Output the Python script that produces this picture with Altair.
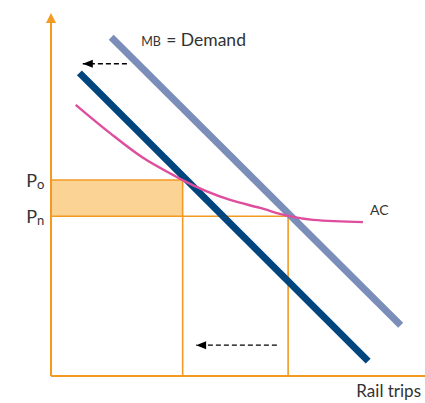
import altair as alt
import pandas as pd

# Diagram units: quantity and price both run 0-100 along the axes
Q_MAX, P_MAX = 100, 100

# Equilibria before and after the demand shift
q_old, q_new = 35.2, 63.4
p_old, p_new = 54.0, 44.0

# Original demand (MB = Demand) and the shifted demand curve
mb_q = [16.1, 93.5]
mb_p = [93.3, 14.0]
shift_q = [7.6, 84.8]
shift_p = [83.5, 4.1]

# Average cost curve
ac_q = [6.6, 15.8, 24.6, 32.6, 35.3, 47.9, 55.9, 63.4, 70.1, 83.4]
ac_p = [74.7, 66.9, 60.1, 55.4, 53.9, 48.5, 46.3, 44.1, 43.0, 42.4]

# Leftward shift arrows: tail quantity, tip quantity, price level
arrow_tail_q = [20.3, 60.4]
arrow_tip_q = [8.5, 38.8]
arrow_p = [86.0, 8.5]

ORANGE = "#F29A22"
FILL = "#FBD395"
LIGHT = "#7B8DB9"
DARK = "#00457E"
PINK = "#DE4E9C"
TEXT = "#333333"
FONT = "Lato"

W, H = 425, 403
left_px, bottom_px = 51, 27
xs = alt.Scale(domain=[-left_px * Q_MAX / (W - left_px), Q_MAX], nice=False, zero=False)
ys_span = 363
ys = alt.Scale(domain=[-bottom_px * P_MAX / ys_span, (H - bottom_px) * P_MAX / ys_span], nice=False, zero=False)


def X(f="q"):
    return alt.X(f"{f}:Q", scale=xs, axis=None)


def Y(f="p"):
    return alt.Y(f"{f}:Q", scale=ys, axis=None)


# Shaded price band between the old and new price
band = alt.Chart(pd.DataFrame({"q": [0], "q2": [q_old], "p": [p_new], "p2": [p_old]})).mark_rect(
    color=FILL
).encode(x=X(), x2="q2:Q", y=Y(), y2="p2:Q")

guides = alt.Chart(pd.DataFrame({
    "q": [0, 0, q_old, q_new],
    "q2": [q_old, q_new, q_old, q_new],
    "p": [p_old, p_new, 0, 0],
    "p2": [p_old, p_new, p_old, p_new],
})).mark_rule(color=ORANGE, strokeWidth=1.6).encode(x=X(), x2="q2:Q", y=Y(), y2="p2:Q")

axes = alt.Chart(pd.DataFrame({
    "q": [0, 0], "q2": [0, Q_MAX], "p": [0, 0], "p2": [P_MAX - 2, 0],
})).mark_rule(color=ORANGE, strokeWidth=2).encode(x=X(), x2="q2:Q", y=Y(), y2="p2:Q")

y_head = alt.Chart(pd.DataFrame({"q": [0], "p": [P_MAX]})).mark_point(
    shape="M 0 0 L -1 2 L 1 2 Z", size=100, filled=True, color=ORANGE, opacity=1, strokeWidth=0
).encode(x=X(), y=Y())

mb_line = alt.Chart(pd.DataFrame({"q": mb_q, "p": mb_p})).mark_line(
    color=LIGHT, strokeWidth=7, strokeCap="butt"
).encode(x=X(), y=Y())

shift_line = alt.Chart(pd.DataFrame({"q": shift_q, "p": shift_p})).mark_line(
    color=DARK, strokeWidth=7, strokeCap="butt"
).encode(x=X(), y=Y())

ac_line = alt.Chart(pd.DataFrame({"q": ac_q, "p": ac_p})).mark_line(
    color=PINK, strokeWidth=2.4, interpolate="monotone"
).encode(x=X(), y=Y())

arrows = pd.DataFrame({"q": arrow_tail_q, "q2": arrow_tip_q, "p": arrow_p})
arrow_shafts = alt.Chart(arrows).mark_rule(
    color="black", strokeWidth=1.4, strokeDash=[5, 3]
).encode(x=X(), x2="q2:Q", y=Y())
arrow_heads = alt.Chart(arrows).mark_point(
    shape="M 0 0 L 2 -0.8 L 2 0.8 Z", size=100, filled=True, color="black", opacity=1, strokeWidth=0
).encode(x=X("q2"), y=Y())

# Price labels P_o and P_n on the vertical axis
prices = pd.DataFrame({"q": [0, 0], "p": [p_old, p_new], "main": ["P", "P"], "sub": ["o", "n"]})
p_main = alt.Chart(prices).mark_text(
    align="right", baseline="alphabetic", dx=-14, dy=7, font=FONT, fontSize=18, color=TEXT
).encode(x=X(), y=Y(), text="main:N")
p_sub = alt.Chart(prices).mark_text(
    align="left", baseline="alphabetic", dx=-14, dy=9, font=FONT, fontSize=13, color=TEXT
).encode(x=X(), y=Y(), text="sub:N")

mb_anchor = pd.DataFrame({"q": [mb_q[0]], "p": [mb_p[0]]})
mb_small = alt.Chart(mb_anchor.assign(t=["MB"])).mark_text(
    align="left", baseline="alphabetic", dx=30, dy=9, font=FONT, fontSize=12.5, color=TEXT
).encode(x=X(), y=Y(), text="t:N")
mb_rest = alt.Chart(mb_anchor.assign(t=["= Demand"])).mark_text(
    align="left", baseline="alphabetic", dx=55, dy=9, font=FONT, fontSize=17.5, color=TEXT
).encode(x=X(), y=Y(), text="t:N")

ac_label = alt.Chart(pd.DataFrame({"q": [ac_q[-1]], "p": [ac_p[-1]], "t": ["AC"]})).mark_text(
    align="left", baseline="alphabetic", dx=7, dy=-7, font=FONT, fontSize=14, color=TEXT
).encode(x=X(), y=Y(), text="t:N")

q_label = alt.Chart(pd.DataFrame({"q": [Q_MAX], "p": [0], "t": ["Rail trips"]})).mark_text(
    align="right", baseline="alphabetic", dx=-4, dy=21, font=FONT, fontSize=17, color=TEXT
).encode(x=X(), y=Y(), text="t:N")

chart = alt.layer(
    band, guides, axes, y_head, shift_line, mb_line, ac_line,
    arrow_shafts, arrow_heads, p_main, p_sub, mb_small, mb_rest, ac_label, q_label,
).properties(
    width=W, height=H, autosize=alt.AutoSizeParams(type="none"), padding=0, background="white"
).configure_view(stroke=None)

chart.save("out.html", embed_options={"renderer": "svg", "actions": False})
